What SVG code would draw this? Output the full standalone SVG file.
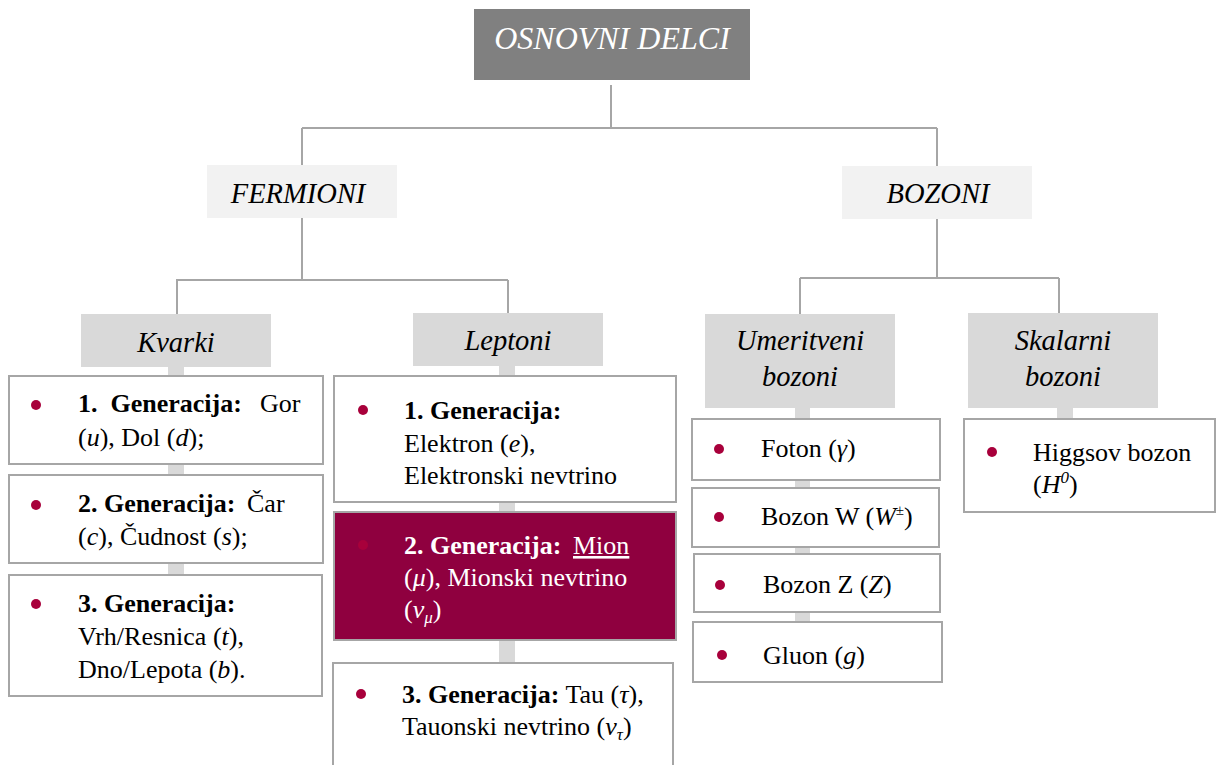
<svg xmlns="http://www.w3.org/2000/svg" width="1217" height="765" viewBox="0 0 1217 765" font-family="Liberation Serif, DejaVu Serif, serif">
<style>
.hd{font-style:italic;text-anchor:middle;}
.b{font-size:26px;fill:#000;}
.w{font-size:26px;fill:#fff;}
.bd{font-weight:bold;}
.i{font-style:italic;}
.box{fill:#fff;stroke:#a6a6a6;stroke-width:2;}
.ln{stroke:#a6a6a6;stroke-width:2;fill:none;}
.bar{fill:#d9d9d9;}
.dot{fill:#a8003b;}
</style>
<rect width="1217" height="765" fill="#fff"/>
<g id="connectors">
<path class="ln" d="M611 85V128M302 128H937M302 128V165M937 128V166"/>
<path class="ln" d="M302 218V280M176 280H508M177 280V314M508 280V313"/>
<path class="ln" d="M937 219V278M800 278H1059M800 278V314M1059 278V313"/>
<rect class="bar" x="168" y="366" width="16" height="210"/>
<rect class="bar" x="499" y="365" width="16" height="300"/>
<rect class="bar" x="795" y="407" width="15" height="216"/>
<rect class="bar" x="1057" y="407" width="16" height="13"/>
</g>
<g id="osnovni">
<rect x="474" y="9" width="276" height="71" fill="#808080"/>
<text class="hd" x="612" y="49" font-size="32" fill="#fff">OSNOVNI DELCI</text>
</g>
<g id="fermioni">
<rect x="207" y="165" width="190" height="53" fill="#f2f2f2"/>
<text class="hd" x="298" y="203" font-size="28.5">FERMIONI</text>
</g>
<g id="bozoni">
<rect x="842" y="166" width="190" height="53" fill="#f2f2f2"/>
<text class="hd" x="938" y="203" font-size="28.5">BOZONI</text>
</g>
<g id="kvarki">
<rect x="81" y="314" width="190" height="53" fill="#d9d9d9"/>
<text class="hd" x="176" y="352" font-size="28.5">Kvarki</text>
</g>
<g id="leptoni">
<rect x="413" y="313" width="190" height="53" fill="#d9d9d9"/>
<text class="hd" x="508" y="350" font-size="28.5">Leptoni</text>
</g>
<g id="umeritveni">
<rect x="705" y="314" width="190" height="94" fill="#d9d9d9"/>
<text class="hd" x="800" y="350" font-size="28.5">Umeritveni</text>
<text class="hd" x="800" y="386" font-size="28.5">bozoni</text>
</g>
<g id="skalarni">
<rect x="968" y="313" width="190" height="95" fill="#d9d9d9"/>
<text class="hd" x="1063" y="350" font-size="28.5">Skalarni</text>
<text class="hd" x="1063" y="386" font-size="28.5">bozoni</text>
</g>
<g id="kvarki-gen1">
<rect class="box" x="9" y="376" width="314" height="88"/>
<circle class="dot" cx="36" cy="405" r="5"/>
<text class="b" x="78" y="412" xml:space="preserve"><tspan class="bd">1.  Generacija:</tspan><tspan x="260">Gor</tspan></text>
<text class="b" x="78" y="446">(<tspan class="i">u</tspan>), Dol (<tspan class="i">d</tspan>);</text>
</g>
<g id="kvarki-gen2">
<rect class="box" x="9" y="475" width="314" height="88"/>
<circle class="dot" cx="36" cy="505" r="5"/>
<text class="b" x="78" y="512"><tspan class="bd">2. Generacija:</tspan><tspan x="247">Čar</tspan></text>
<text class="b" x="78" y="545">(<tspan class="i">c</tspan>), Čudnost (<tspan class="i">s</tspan>);</text>
</g>
<g id="kvarki-gen3">
<rect class="box" x="9" y="575" width="313" height="121"/>
<circle class="dot" cx="36" cy="604" r="5"/>
<text class="b bd" x="78" y="612">3. Generacija:</text>
<text class="b" x="78" y="645">Vrh/Resnica (<tspan class="i">t</tspan>),</text>
<text class="b" x="78" y="678">Dno/Lepota (<tspan class="i">b</tspan>).</text>
</g>
<g id="leptoni-gen1">
<rect class="box" x="334" y="376" width="342" height="126"/>
<circle class="dot" cx="363" cy="410" r="5"/>
<text class="b bd" x="404" y="419">1. Generacija:</text>
<text class="b" x="404" y="452">Elektron (<tspan class="i">e</tspan>),</text>
<text class="b" x="404" y="484">Elektronski nevtrino</text>
</g>
<g id="leptoni-gen2">
<rect x="334" y="512" width="342" height="128" fill="#8f003f" stroke="#a6a6a6" stroke-width="2"/>
<circle cx="363" cy="545" r="5" fill="#a8003b"/>
<text class="w" x="404" y="554"><tspan class="bd">2. Generacija:</tspan><tspan x="573" text-decoration="underline">Mion</tspan></text>
<text class="w" x="404" y="586">(<tspan class="i">μ</tspan>), Mionski nevtrino</text>
<text class="w" x="404" y="618">(<tspan class="i">ν</tspan><tspan class="i" font-size="17" dy="5">μ</tspan><tspan dy="-5">)</tspan></text>
</g>
<g id="leptoni-gen3">
<rect class="box" x="333" y="663" width="340" height="112"/>
<circle class="dot" cx="361" cy="694" r="5"/>
<text class="b" x="402" y="703"><tspan class="bd">3. Generacija:</tspan> Tau (<tspan class="i">τ</tspan>),</text>
<text class="b" x="402" y="735">Tauonski nevtrino (<tspan class="i">ν</tspan><tspan class="i" font-size="17" dy="5">τ</tspan><tspan dy="-5">)</tspan></text>
</g>
<g id="foton">
<rect class="box" x="692" y="419" width="248" height="61"/>
<circle class="dot" cx="719" cy="449" r="5"/>
<text class="b" x="761" y="457">Foton (<tspan class="i">γ</tspan>)</text>
</g>
<g id="bozon-w">
<rect class="box" x="692" y="488" width="247" height="59"/>
<circle class="dot" cx="719" cy="517" r="5"/>
<text class="b" x="761" y="525">Bozon W (<tspan class="i">W</tspan><tspan font-size="15" dy="-10">±</tspan><tspan dy="10">)</tspan></text>
</g>
<g id="bozon-z">
<rect class="box" x="694" y="554" width="246" height="58"/>
<circle class="dot" cx="720" cy="585" r="5"/>
<text class="b" x="763" y="593">Bozon Z (<tspan class="i">Z</tspan>)</text>
</g>
<g id="gluon">
<rect class="box" x="693" y="622" width="249" height="60"/>
<circle class="dot" cx="722" cy="655" r="5"/>
<text class="b" x="763" y="664">Gluon (<tspan class="i">g</tspan>)</text>
</g>
<g id="higgs">
<rect class="box" x="964" y="419" width="251" height="93"/>
<circle class="dot" cx="992" cy="452" r="5"/>
<text class="b" x="1033" y="461">Higgsov bozon</text>
<text class="b" x="1033" y="493">(<tspan class="i">H</tspan><tspan class="i" font-size="17" dy="-10">0</tspan><tspan dy="10">)</tspan></text>
</g>
</svg>
